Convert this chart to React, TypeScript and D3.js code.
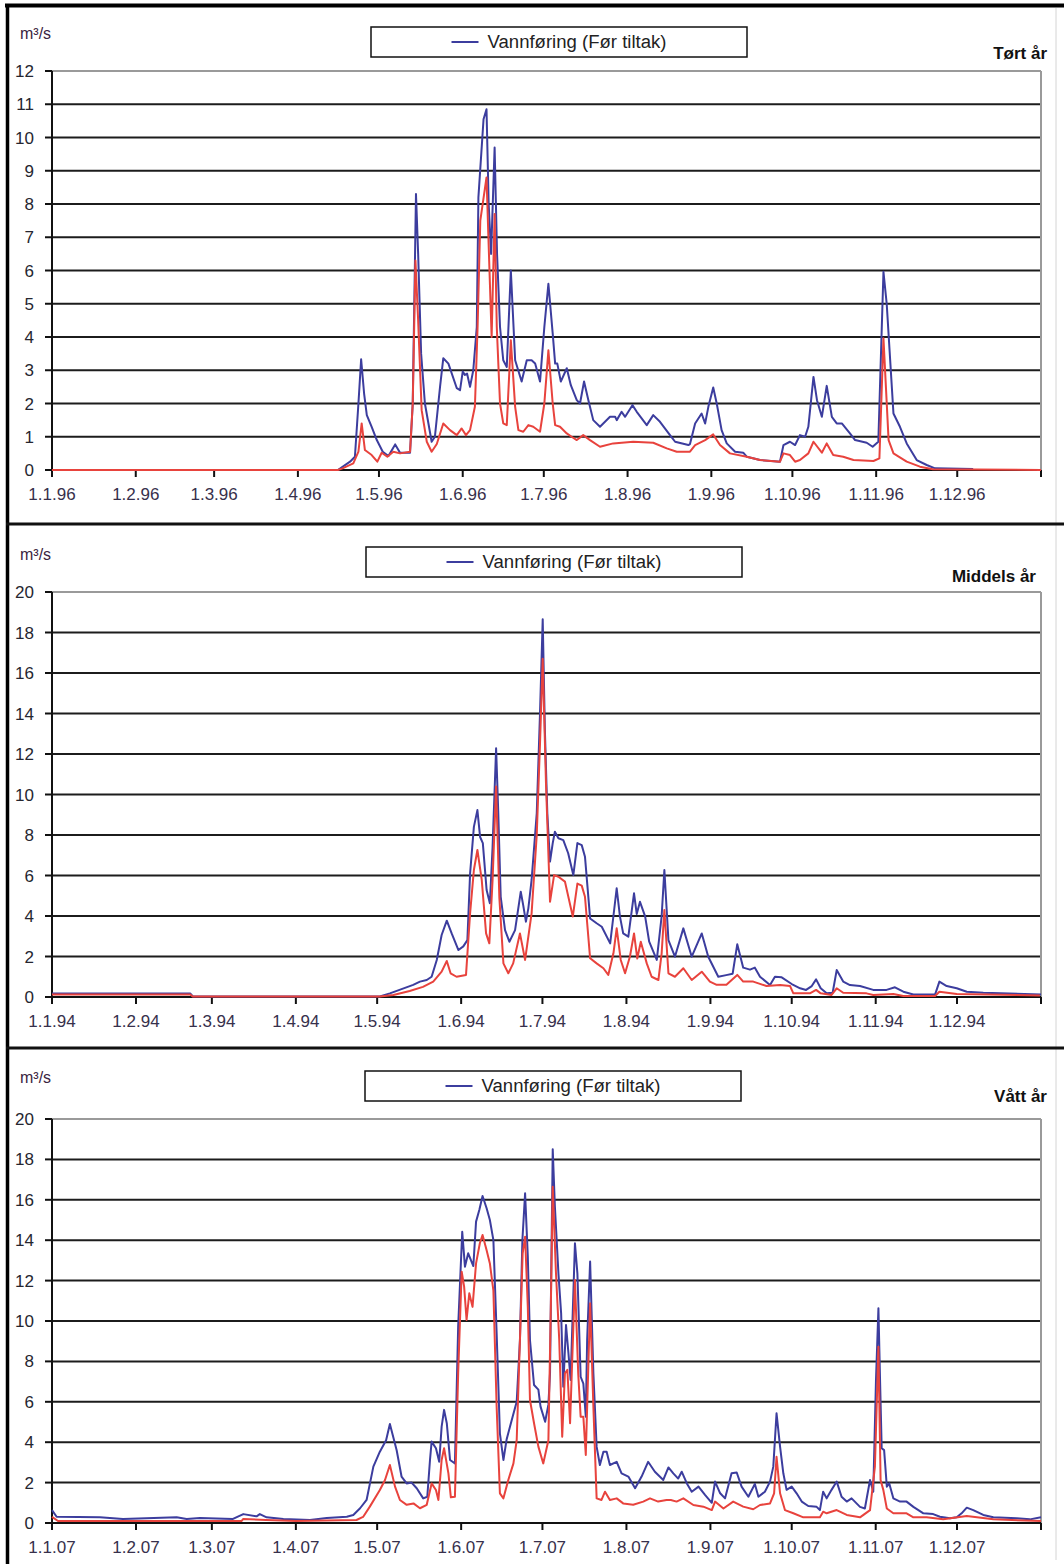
import React from 'react';
import * as d3 from 'd3';

type Pt = [number, number]; // [day offset from 1 Jan, m³/s]

// ---------- Tørt år (1996) ----------
const tortBlue: Pt[] = [
  [105.8,0],[110.3,0.25],[112.1,0.4],[113.4,2.0],[114.4,3.33],[115.5,2.3],[116.5,1.65],[118.3,1.3],[120.2,0.9],[122.4,0.55],
  [124.5,0.42],[127,0.77],[128.8,0.52],[132.5,0.52],[133.5,2.0],[134.7,8.3],[135.5,6.5],[136.6,3.5],[138,2.0],[140.5,0.85],
  [141.7,1.0],[143.6,2.5],[144.8,3.36],[146.7,3.2],[149.8,2.46],[151,2.4],[152,2.96],[152.8,2.86],[153.6,2.9],[154.7,2.5],
  [155.9,3.0],[157.2,4.3],[157.8,8.2],[159.7,10.55],[160.8,10.85],[161.6,8.0],[162.5,6.5],[163.8,9.7],[164.7,6.5],[165.8,4.3],
  [167,3.3],[168.3,3.1],[169.8,6.0],[171.4,3.3],[173.8,2.66],[175.7,3.3],[177.5,3.3],[178.8,3.2],[180.6,2.66],[182.2,4.3],
  [183.7,5.6],[185.3,4.1],[186.2,3.2],[187,3.2],[188.3,2.66],[190.5,3.06],[192,2.55],[194.2,2.1],[195.4,2.0],[196.9,2.66],
  [198.5,2.1],[200.3,1.5],[202.8,1.3],[206.5,1.6],[208.4,1.6],[209,1.5],[210.8,1.75],[212.1,1.6],[214.8,1.95],[216.4,1.75],
  [220.1,1.35],[222.5,1.65],[225,1.45],[228.7,1.05],[230.6,0.85],[235.5,0.75],[236.1,0.78],[238,1.4],[240.4,1.7],[241.7,1.4],
  [242.9,1.9],[244.7,2.48],[246,2.0],[247.8,1.2],[249.7,0.8],[252.8,0.55],[255.8,0.52],[257.1,0.4],[262,0.3],[269.4,0.25],
  [270.7,0.75],[273.1,0.85],[275,0.75],[276.8,1.05],[278.7,1.0],[279.9,1.3],[281.8,2.8],[283.1,2.1],[284.9,1.6],[286.7,2.53],
  [288.6,1.6],[290.4,1.4],[292.3,1.4],[295.3,1.1],[297.2,0.9],[301.5,0.82],[303.7,0.7],[305.8,0.85],[307.7,5.96],[308.9,5.0],
  [311.4,1.7],[313.8,1.3],[316.3,0.8],[320,0.3],[323.7,0.15],[326.8,0.05],[340.9,0.03],
];
const tortRed: Pt[] = [
  [0,0],[105.8,0],[107.5,0.05],[111.5,0.2],[113.4,0.55],[114.6,1.4],[115.8,0.6],[118.3,0.45],[120.4,0.25],[122,0.52],
  [124.1,0.4],[126.3,0.55],[128.8,0.5],[132.5,0.55],[133.5,2.0],[134.5,6.3],[135.5,4.5],[136.8,1.8],[138.7,0.85],[140.5,0.55],
  [142.4,0.78],[144.8,1.4],[147.3,1.2],[149.8,1.05],[151.6,1.25],[153.2,1.05],[154.7,1.2],[156.5,1.9],[157.5,4.3],[158.5,7.5],
  [160.8,8.8],[161.5,7.0],[162.7,4.0],[163.8,7.7],[164.6,4.3],[165.8,2.0],[167,1.4],[168.3,1.35],[169.8,3.9],[171.4,1.9],
  [172.6,1.2],[174.4,1.15],[176.3,1.35],[178.1,1.3],[180.6,1.15],[182.2,2.0],[183.7,3.6],[185.3,2.0],[186.2,1.35],[188,1.3],
  [190.5,1.1],[192.3,1.0],[194.2,0.9],[196.6,1.05],[199.1,0.9],[202.8,0.7],[207.7,0.8],[215.1,0.85],[222.5,0.82],[227.5,0.65],
  [231.2,0.55],[236.1,0.55],[238,0.75],[241.7,0.9],[244.7,1.07],[247.2,0.75],[250.9,0.5],[257.1,0.4],[262,0.3],[269.4,0.25],
  [270.7,0.5],[273.1,0.45],[275,0.25],[276.8,0.3],[279.9,0.5],[281.8,0.85],[284.9,0.52],[286.7,0.8],[289.1,0.45],[292.8,0.4],
  [296.6,0.3],[304,0.27],[306.2,0.35],[307.7,3.96],[309.6,0.9],[311.4,0.5],[316.3,0.25],[321.2,0.1],[326,0.02],[366,0],
];

// ---------- Middels år (1994) ----------
const middelsBlue: Pt[] = [
  [0,0.17],[51,0.17],[52,0.03],[121,0.03],[124.7,0.18],[133.3,0.6],[135.8,0.76],[138.3,0.84],[140.1,1.0],[142,1.83],
  [143.8,3.06],[145.7,3.77],[147.5,3.14],[150,2.32],[151.8,2.5],[153.3,2.81],[154.3,6.1],[155.7,8.4],[157,9.23],[158,7.9],
  [159,7.6],[160.4,5.28],[161.6,4.63],[162.6,7.4],[163.9,12.28],[164.7,9.1],[165.6,4.95],[167.2,3.3],[168.8,2.73],[170.9,3.3],
  [173,5.2],[173.9,4.54],[174.9,3.72],[175.8,4.38],[177,5.78],[178.9,9.07],[180.1,14.0],[181.1,18.65],[181.9,13.2],[182.8,9.07],
  [183.8,6.68],[184.8,7.6],[185.6,8.16],[186.9,7.84],[188.7,7.75],[190.5,7.1],[192.4,6.02],[193.9,7.6],[195.5,7.5],[196.7,6.93],
  [198.6,3.88],[201,3.64],[202.9,3.47],[206,2.65],[207.2,4.0],[208.4,5.37],[209.6,3.98],[210.8,3.14],[212.7,2.98],[214.8,5.12],
  [215.8,4.1],[217,4.7],[218.9,3.98],[220.4,2.73],[223.2,1.83],[225,4.0],[226,6.27],[227.5,2.81],[229.9,1.99],[233,3.39],
  [236.1,1.99],[239.8,3.14],[242.2,1.99],[245.9,1.0],[248.8,1.08],[251.2,1.15],[252.9,2.6],[255.1,1.45],[257.6,1.35],[259.4,1.45],
  [261.3,1.0],[265,0.59],[266.8,1.0],[269.3,0.97],[273,0.64],[276.1,0.43],[278.3,0.35],[280.4,0.54],[282,0.87],[283.7,0.43],
  [285.9,0.18],[288.1,0.21],[289.6,1.33],[292,0.76],[294.5,0.59],[298.2,0.54],[303.1,0.35],[308,0.35],[311.1,0.48],[314.2,0.26],
  [317.9,0.12],[325.9,0.12],[327.5,0.76],[330.2,0.54],[333.9,0.43],[337.6,0.26],[343.7,0.21],[365,0.12],
];
const middelsRed: Pt[] = [
  [0,0.12],[51,0.12],[52,0.02],[121,0.02],[126,0.1],[132,0.3],[136.9,0.5],[140.7,0.76],[143.8,1.25],[145.7,1.78],
  [147.1,1.17],[149.3,1.0],[152.8,1.09],[154.3,4.13],[155.7,6.27],[157,7.26],[158.6,5.78],[160.2,3.14],[161.4,2.65],[162.6,5.78],
  [163.9,10.4],[165.1,4.9],[166.6,1.66],[168.4,1.17],[170.2,1.66],[172.7,3.14],[174.6,1.83],[177,4.13],[178.9,8.0],[180.1,12.5],
  [181.1,16.7],[182.3,10.6],[183.8,4.7],[185.3,6.02],[186.9,5.94],[189.3,5.7],[192.2,3.97],[193.9,5.6],[195.5,5.5],[196.7,4.95],
  [198.6,1.91],[201,1.66],[203.5,1.42],[205.3,1.09],[207.2,2.16],[208.4,3.39],[209.9,1.83],[211.5,1.17],[213.3,2.0],[214.8,3.14],
  [216,1.9],[217.3,2.73],[219.5,1.66],[221.3,1.0],[223.8,0.84],[225,2.16],[226,4.3],[227.5,1.17],[229.9,1.0],[233,1.42],
  [236.1,0.84],[239.8,1.25],[242.8,0.76],[245.3,0.6],[248.9,0.6],[252.9,1.09],[255.1,0.76],[258.8,0.76],[263.7,0.54],[268.7,0.59],
  [272.4,0.54],[273.6,0.18],[279.7,0.18],[282,0.35],[283.7,0.18],[287.7,0.1],[289.6,0.43],[292,0.21],[300.6,0.18],[303.1,0.1],
  [310.5,0.15],[314.2,0.05],[325.9,0.05],[327.5,0.26],[333.9,0.15],[364.6,0.08],
];

// ---------- Vått år (2007) ----------
const vattBlue: Pt[] = [
  [0,0.64],[1.7,0.31],[17.7,0.28],[26.2,0.2],[46,0.28],[49.7,0.2],[54.6,0.25],[66.8,0.2],[70.6,0.44],[75.5,0.33],
  [76.7,0.44],[79.2,0.28],[85.4,0.2],[95.2,0.15],[101.4,0.25],[108.8,0.31],[111.2,0.4],[113.7,0.73],[116.1,1.14],[118.6,2.79],
  [121,3.53],[123.3,4.1],[124.7,4.9],[127.2,3.6],[129,2.3],[130.9,1.96],[132.7,2.0],[134.6,1.72],[137,1.22],[138.5,1.3],
  [139.5,3.12],[140.1,4.03],[141.7,3.7],[142.9,3.03],[143.8,4.77],[144.7,5.6],[145.7,4.94],[146.9,3.12],[148.7,2.95],[149.9,9.72],
  [151.4,14.42],[152.4,12.69],[153.6,13.35],[155.5,12.72],[156.5,14.92],[157.7,15.5],[158.9,16.19],[160.4,15.58],[161.6,15.0],[162.9,14.0],
  [164.1,9.39],[165.3,4.44],[166.6,3.12],[167.8,4.15],[170,5.26],[171.5,6.0],[172.7,9.06],[173.6,14.0],[174.6,16.32],[175.6,13.2],
  [176.4,9.06],[177.9,6.83],[179.5,6.6],[180.3,5.76],[182,5.01],[183.2,5.86],[183.8,7.41],[184.8,18.5],[185.6,15.66],[186.9,12.36],
  [187.9,10.38],[188.7,6.75],[189.7,9.8],[190.6,8.4],[191.4,7.08],[193,13.85],[193.9,12.36],[195.1,7.24],[196.1,6.9],[197,5.26],
  [197.5,9.06],[198.6,12.94],[199.8,7.41],[201,3.78],[202.2,2.87],[203.5,3.53],[204.7,3.53],[205.9,2.87],[208.4,3.03],[210.2,2.46],
  [212.7,2.3],[215.2,1.72],[217.6,2.3],[220,3.03],[222.5,2.54],[225.6,2.13],[227.5,2.75],[229.3,2.46],[231.1,2.2],[232.4,2.54],
  [234.3,1.96],[236.1,1.55],[238.6,1.8],[241,1.39],[243.5,1.0],[244.7,2.05],[246.6,1.47],[248.4,1.22],[250.8,2.46],[252.7,2.5],
  [254.5,1.8],[257,1.3],[259.4,1.93],[260.7,1.3],[263.1,1.55],[265,2.05],[266.2,2.79],[267.4,5.43],[268.7,3.78],[269.9,2.46],
  [271.1,1.64],[273,1.8],[274.8,1.47],[276.7,1.06],[279.1,0.84],[282.2,0.8],[283.4,0.64],[284.6,1.55],[285.9,1.22],[287.7,1.64],
  [289.6,2.05],[291.4,1.3],[293.3,1.06],[295.1,1.22],[298.2,0.8],[300,0.72],[301.9,2.13],[303.1,1.55],[304.1,7.08],[305,10.63],
  [305.6,7.08],[306.2,3.7],[307.1,3.61],[308.1,1.8],[309,1.96],[310.5,1.22],[313,1.06],[315.4,1.06],[317.9,0.8],[321.6,0.48],
  [325.2,0.44],[327.7,0.31],[331.4,0.23],[333.9,0.28],[335.7,0.48],[337.6,0.76],[340,0.64],[343.7,0.4],[347.4,0.28],[356,0.23],
  [360.9,0.18],[365,0.28],
];
const vattRed: Pt[] = [
  [0,0.3],[2.2,0.1],[70,0.1],[70.6,0.2],[79,0.15],[90,0.1],[112.4,0.15],[114.8,0.3],[117.3,0.81],[121,1.63],
  [122.9,2.13],[124.7,2.87],[126.6,1.8],[128.4,1.14],[130.9,0.9],[133.4,0.97],[135.8,0.73],[138.3,0.9],[140.1,1.96],[141.7,1.63],
  [142.6,1.14],[143.8,3.12],[144.7,3.7],[146.3,2.46],[147.2,1.27],[148.7,1.3],[149.9,7.41],[151.2,12.44],[152.1,11.7],[153,10.05],
  [154,11.37],[155.2,10.7],[156.5,12.85],[157.9,13.85],[158.9,14.26],[160.4,13.5],[161.6,12.85],[162.9,11.5],[164.1,5.76],[165.3,1.47],
  [166.6,1.22],[168.4,2.13],[170.3,2.95],[171.5,4.1],[172.7,9.06],[173.7,13.35],[174.6,14.17],[175.6,10.7],[176.4,6.09],[177.9,4.94],
  [179.5,3.78],[181.3,2.95],[183.2,4.1],[184.1,10.7],[184.8,16.65],[186,12.36],[187.2,9.06],[188.3,4.27],[189.3,7.41],[190.2,7.58],
  [191.2,4.94],[193,12.03],[194.2,7.41],[195.1,5.26],[196.1,5.26],[197,3.37],[198.6,10.88],[199.8,5.76],[201,1.22],[202.8,1.14],
  [204.1,1.55],[205.9,1.14],[208.4,1.22],[210.8,0.97],[214.5,0.9],[218.2,1.06],[220.7,1.22],[223.7,1.06],[226.8,1.14],[228.4,1.14],
  [230.5,1.06],[233,1.22],[236.7,0.89],[240.4,0.81],[243.5,0.64],[244.7,1.06],[247.8,0.72],[251.4,1.06],[255.1,0.81],[258.8,0.68],
  [261.3,0.89],[265,0.97],[266.5,1.47],[267.4,3.28],[268.7,1.47],[270.5,0.64],[273.6,0.48],[277.3,0.28],[283.4,0.28],[284.6,0.56],
  [285.9,0.48],[289.6,0.64],[293.3,0.4],[298.2,0.28],[301.9,0.64],[303.7,2.79],[305,8.73],[305.8,2.13],[306.8,1.64],[308.1,0.72],
  [310.5,0.48],[315.4,0.48],[317.9,0.28],[322.8,0.28],[328.9,0.18],[337.6,0.35],[347.4,0.18],[365,0.1],
];

const legendLabel = 'Vannføring (Før tiltak)';
const unitLabel = 'm³/s';
const panelTitles = ['Tørt år', 'Middels år', 'Vått år'];
const panelYears = [1996, 1994, 2007];
const panelYMax = [12, 20, 20];
const panelYTickCount = [12, 10, 10];

const FONT = '"Liberation Sans", Arial, Helvetica, sans-serif';
const BLUE = '#3c3d9e';
const RED = '#e8433d';
const X0 = 52;
const X1 = 1041;

interface Layout {
  yTop: number; yZero: number; legendX: number; legendY: number; legendW: number; legendH: number;
  unitY: number; titleRight: number; titleY: number;
}
const layouts: Layout[] = [
  { yTop: 71, yZero: 470, legendX: 371, legendY: 27, legendW: 376, legendH: 30, unitY: 39, titleRight: 1047, titleY: 59 },
  { yTop: 592, yZero: 997, legendX: 366, legendY: 547, legendW: 376, legendH: 30, unitY: 560, titleRight: 1036, titleY: 582 },
  { yTop: 1119, yZero: 1523, legendX: 365, legendY: 1071, legendW: 376, legendH: 30, unitY: 1083, titleRight: 1047, titleY: 1102 },
];

const fmtDate = (d: Date) => `${d.getDate()}.${d.getMonth() + 1}.${String(d.getFullYear()).slice(2)}`;

function Panel({ idx, blue, red }: { idx: number; blue: Pt[]; red: Pt[] }) {
  const L = layouts[idx];
  const year = panelYears[idx];
  const start = new Date(year, 0, 1);
  const end = new Date(year + 1, 0, 1);
  const x = d3.scaleTime().domain([start, end]).range([X0, X1]);
  const y = d3.scaleLinear().domain([0, panelYMax[idx]]).range([L.yZero, L.yTop]);
  const toDate = (day: number) => new Date(start.getTime() + day * 86400000);
  const line = d3.line<Pt>().x(d => x(toDate(d[0]))).y(d => y(d[1]));
  const yTicks = y.ticks(panelYTickCount[idx]);
  const months = d3.timeMonth.range(start, d3.timeDay.offset(end, 1));
  const cx = L.legendX + L.legendW / 2;
  const contentW = 27 + 9 + 179;
  const lx = cx - contentW / 2;
  const ly = L.legendY + L.legendH / 2;
  return (
    <g>
      {yTicks.filter(t => t > 0 && t < panelYMax[idx]).map(t => (
        <line key={'g' + t} x1={X0} x2={X1} y1={y(t)} y2={y(t)} stroke="#1c1c1c" strokeWidth={2} />
      ))}
      <line x1={X0} x2={X1} y1={y(panelYMax[idx])} y2={y(panelYMax[idx])} stroke="#9a9a9a" strokeWidth={2} />
      <line x1={X1} x2={X1} y1={y(panelYMax[idx])} y2={L.yZero} stroke="#9a9a9a" strokeWidth={2} />
      <line x1={X0} x2={X0} y1={y(panelYMax[idx])} y2={L.yZero} stroke="#111" strokeWidth={2} />
      {yTicks.map(t => (
        <g key={'yt' + t}>
          <line x1={X0 - 7} x2={X0} y1={y(t)} y2={y(t)} stroke="#111" strokeWidth={2} />
          <text x={34} y={y(t) + 6} textAnchor="end" fontSize={17} fontFamily={FONT} fill="#262630">{t}</text>
        </g>
      ))}
      <line x1={X0} x2={X1} y1={L.yZero} y2={L.yZero} stroke="#111" strokeWidth={2} />
      {months.map((m, i) => (
        <g key={'xt' + i}>
          <line x1={x(m)} x2={x(m)} y1={L.yZero} y2={L.yZero + 7} stroke="#111" strokeWidth={2} />
          {m.getFullYear() === year && (
            <text x={x(m)} y={L.yZero + 30} textAnchor="middle" fontSize={17} fontFamily={FONT} fill="#37304c">{fmtDate(m)}</text>
          )}
        </g>
      ))}
      <path d={line(blue) || ''} fill="none" stroke={BLUE} strokeWidth={2} strokeLinejoin="round" />
      <path d={line(red) || ''} fill="none" stroke={RED} strokeWidth={2} strokeLinejoin="round" />
      <text x={20} y={L.unitY} fontSize={16} fontFamily={FONT} fill="#3a2440">{unitLabel}</text>
      <rect x={L.legendX} y={L.legendY} width={L.legendW} height={L.legendH} fill="#fff" stroke="#111" strokeWidth={1.5} />
      <line x1={lx} x2={lx + 27} y1={ly} y2={ly} stroke={BLUE} strokeWidth={2} />
      <text x={lx + 36} y={ly + 6} fontSize={18} fontFamily={FONT} fill="#222" textLength={179} lengthAdjust="spacingAndGlyphs">{legendLabel}</text>
      <text x={L.titleRight} y={L.titleY} textAnchor="end" fontSize={17} fontWeight="bold" fontFamily={FONT} fill="#111">{panelTitles[idx]}</text>
    </g>
  );
}

export default function App() {
  return (
    <svg width={1064} height={1564} style={{ position: 'absolute', left: 0, top: 0, background: '#fff' }}>
      <rect x={0} y={0} width={1064} height={1564} fill="#fff" />
      <line x1={1056} x2={1056} y1={8} y2={1560} stroke="#d4d4d4" strokeWidth={1} />
      <Panel idx={0} blue={tortBlue} red={tortRed} />
      <Panel idx={1} blue={middelsBlue} red={middelsRed} />
      <Panel idx={2} blue={vattBlue} red={vattRed} />
      <line x1={5} x2={1064} y1={5.5} y2={5.5} stroke="#000" strokeWidth={4} />
      <line x1={7.5} x2={7.5} y1={4} y2={1564} stroke="#000" strokeWidth={3.5} />
      <line x1={6} x2={1064} y1={524} y2={524} stroke="#111" strokeWidth={3} />
      <line x1={6} x2={1064} y1={1048} y2={1048} stroke="#111" strokeWidth={3} />
    </svg>
  );
}
